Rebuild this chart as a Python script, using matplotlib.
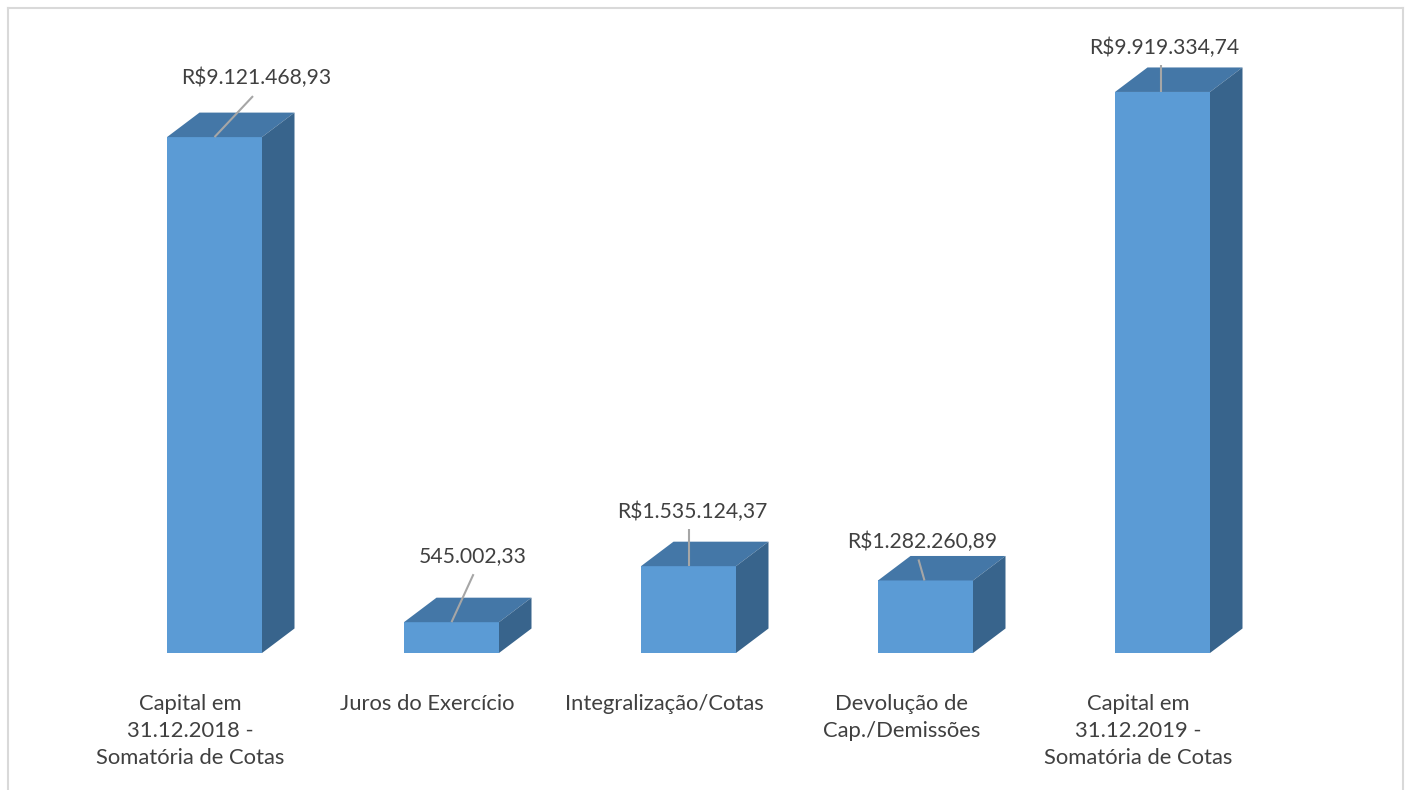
import matplotlib
matplotlib.use("Agg")
import matplotlib.pyplot as plt
from matplotlib.patches import Polygon
from matplotlib.lines import Line2D

categories = ["Capital em\n31.12.2018 -\nSomatória de Cotas", "Juros do Exercício",
              "Integralização/Cotas", "Devolução de\nCap./Demissões",
              "Capital em\n31.12.2019 -\nSomatória de Cotas"]
values = [9121468.93, 545002.33, 1535124.37, 1282260.89, 9919334.74]
labels = ["R$9.121.468,93", "545.002,33", "R$1.535.124,37", "R$1.282.260,89", "R$9.919.334,74"]
# label placement relative to bar front-top centre, in pixels
label_off = [(41.5, 59), (21, 66), (4, 54), (-3, 39), (1.5, 44)]
line_top_off = [(38.5, 41), (22, 48), (0, 37), (-7, 21), (-1.5, 27)]
line_bot_dx = [0, 0, 0, -1, -1.5]

W, H = 1408, 790
fig = plt.figure(figsize=(W/100, H/100), dpi=100)
plt.rcParams['font.family'] = ['Lato', 'DejaVu Sans']

px_per_unit = 237.0
x0_px = 214.5
base_px = 653
ymax = 11e6
px_per_val = 56.56 / 1e6
left_px = x0_px - 0.5 * px_per_unit
ax_w_px = 5 * px_per_unit
ax_h_px = ymax * px_per_val
ax = fig.add_axes([left_px / W, (H - base_px) / H, ax_w_px / W, ax_h_px / H])
ax.set_xlim(-0.5, 4.5)
ax.set_ylim(0, ymax)
ax.axis('off')

front_c = '#5B9BD5'
top_c = '#4477A7'
side_c = '#38648C'
bw = 95 / px_per_unit
ddx = 32.5 / px_per_unit
ddy = 24.5 / px_per_val
ux = 1 / px_per_unit
uy = 1 / px_per_val

for i, v in enumerate(values):
    l, r = i - bw/2, i + bw/2
    ax.add_patch(Polygon([(l, 0), (r, 0), (r, v), (l, v)], closed=True, fc=front_c, ec='none', clip_on=False))
    ax.add_patch(Polygon([(l, v), (r, v), (r+ddx, v+ddy), (l+ddx, v+ddy)], closed=True, fc=top_c, ec='none', clip_on=False))
    ax.add_patch(Polygon([(r, 0), (r+ddx, ddy), (r+ddx, v+ddy), (r, v)], closed=True, fc=side_c, ec='none', clip_on=False))
    # leader line
    tx, ty = line_top_off[i]
    ax.plot([i + tx*ux, i + line_bot_dx[i]*ux], [v + ty*uy, v], color='#A6A6A6', lw=1.5,
            clip_on=False, solid_capstyle='butt')
    lx, ly = label_off[i]
    ax.text(i + lx*ux, v + ly*uy, labels[i], ha='center', va='center',
            fontsize=15.2, color='#404040')
    ax.text(i - 24*ux, -41*uy, categories[i], ha='center', va='top',
            fontsize=15.8, color='#404040', linespacing=1.45)

# frame
fc = '#D9D9D9'
fig.add_artist(Line2D([8/W, 8/W], [0, 1 - 8/H], color=fc, lw=1.5))
fig.add_artist(Line2D([8/W, 1403/W], [1 - 8/H, 1 - 8/H], color=fc, lw=1.5))
fig.add_artist(Line2D([1403/W, 1403/W], [0, 1 - 8/H], color=fc, lw=1.5))

fig.savefig("out.png", dpi=100)
